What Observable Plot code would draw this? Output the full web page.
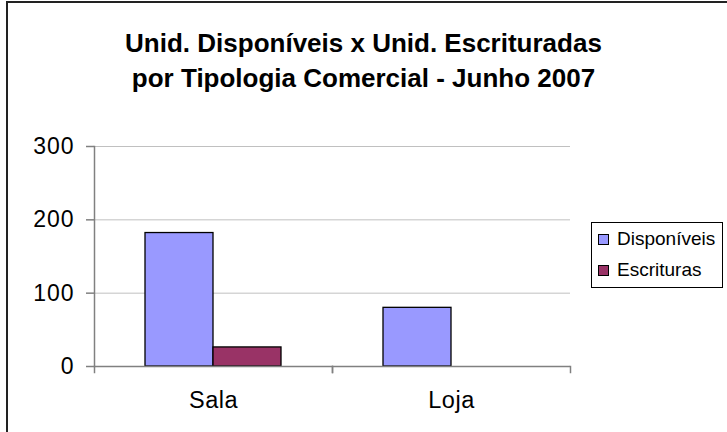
<!DOCTYPE html>
<html>
<head>
<meta charset="utf-8">
<script src="https://cdn.jsdelivr.net/npm/d3@7"></script>
<script src="https://cdn.jsdelivr.net/npm/@observablehq/plot@0.6"></script>
<style>
  html, body { margin: 0; padding: 0; background: #fff; overflow: hidden; }
  #wrap { position: relative; width: 727px; height: 432px; overflow: hidden; font-family: "Liberation Sans", Arial, sans-serif; }
  #border { position: absolute; left: 6px; top: 1px; width: 740px; height: 450px; border: 2px solid #222; box-sizing: border-box; }
  #chart { position: absolute; left: 0; top: 0; }
  #title { position: absolute; left: 0; top: 26px; width: 727px; text-align: center; font-weight: bold; font-size: 26px; line-height: 35px; color: #000; }
  #legend { position: absolute; left: 591px; top: 222px; width: 132px; height: 66px; border: 1px solid #000; box-sizing: border-box; background: #fff; font-size: 19px; }
  .item { position: absolute; left: 6px; height: 20px; line-height: 20px; display: flex; align-items: center; }
  .sw { width: 9px; height: 9px; border: 1px solid #000; margin-right: 8px; }
  #chart svg g[aria-label="y-axis tick label"] text { letter-spacing: 1px; }
  #chart svg g[aria-label="fx-axis tick label"] text { letter-spacing: 0.5px; }
</style>
</head>
<body>
<div id="wrap">
  <div id="border"></div>
  <div id="chart"></div>
  <div id="title">Unid. Disponíveis x Unid. Escrituradas<br>por Tipologia Comercial - Junho 2007</div>
  <div id="legend"></div>
</div>
<script>
const categories = ["Sala", "Loja"];
const series = ["Disponíveis", "Escrituras"];
const disponiveis = [182, 80];
const escrituras = [26, 0];
const yTicks = [0, 100, 200, 300];
const colors = ["#9999ff", "#993366"];

const data = categories.flatMap((c, i) => [
  {cat: c, series: series[0], value: disponiveis[i]},
  {cat: c, series: series[1], value: escrituras[i]}
]);

const gray = "#808080";
const chart = Plot.plot({
  width: 727,
  height: 432,
  marginLeft: 93,
  marginRight: 157,
  marginTop: 146,
  marginBottom: 66,
  style: {fontFamily: "'Liberation Sans', Arial, sans-serif", background: "transparent", color: "#000"},
  fx: {domain: categories, padding: 0, label: null, axis: null},
  x: {domain: series, paddingInner: 0, paddingOuter: 0.737, axis: null},
  y: {domain: [0, 300], label: null},
  color: {domain: series, range: colors},
  marks: [
    Plot.gridY(yTicks, {stroke: "#c0c0c0", strokeOpacity: 1, strokeWidth: 1}),
    Plot.barY(data.filter(d => d.value > 0), {fx: "cat", x: "series", y: "value", fill: "series", stroke: "#000", strokeWidth: 1.3}),
    Plot.ruleY([0], {stroke: gray, strokeWidth: 1.5}),
    Plot.frame({anchor: "left", facet: "super", stroke: gray, strokeWidth: 1.5}),
    Plot.frame({anchor: "left", insetTop: 220, insetBottom: -6, stroke: gray, strokeWidth: 1.5}),
    Plot.frame({anchor: "right", insetTop: 220, insetBottom: -6, stroke: gray, strokeWidth: 1.5}),
    Plot.axisY(yTicks, {text: null, tickSize: 8, stroke: gray, strokeWidth: 1.5, label: null}),
    Plot.axisY(yTicks, {tickSize: 0, tickPadding: 20, fontSize: 23, fill: "#000", label: null}),
    Plot.axisFx({anchor: "bottom", tickSize: 0, tickPadding: 25, fontSize: 23.5, fill: "#000", label: null})
  ]
});
document.getElementById("chart").appendChild(chart);

const legend = document.getElementById("legend");
series.forEach((s, i) => {
  const item = document.createElement("div");
  item.className = "item";
  item.style.top = (6 + i * 31) + "px";
  const sw = document.createElement("div");
  sw.className = "sw";
  sw.style.background = colors[i];
  const t = document.createElement("span");
  t.textContent = s;
  item.appendChild(sw);
  item.appendChild(t);
  legend.appendChild(item);
});
</script>
</body>
</html>
